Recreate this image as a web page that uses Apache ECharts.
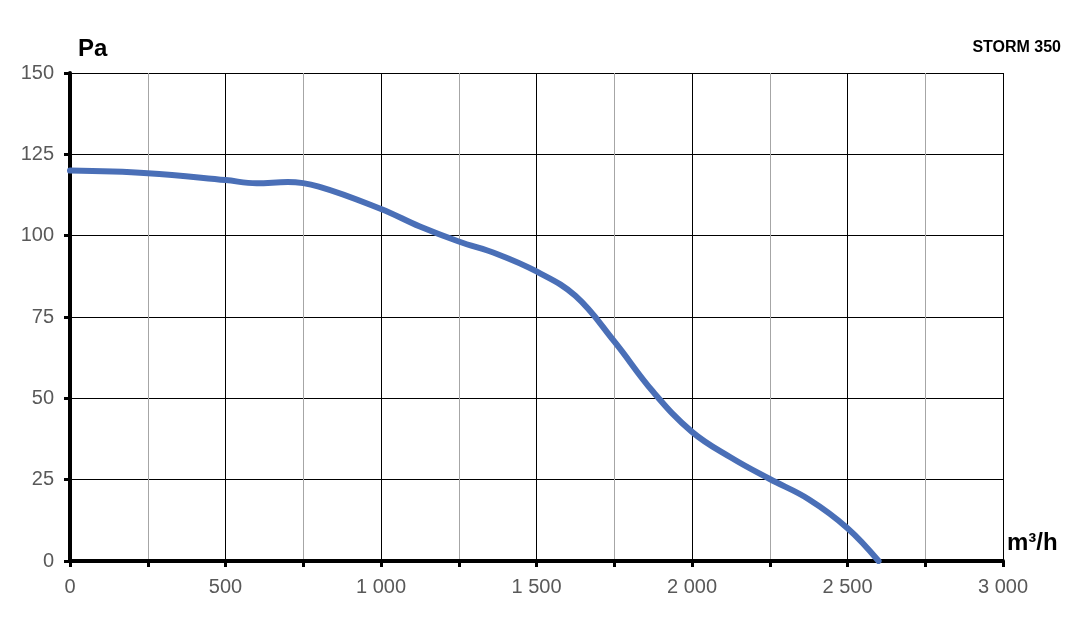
<!DOCTYPE html>
<html>
<head>
<meta charset="utf-8">
<script src="https://cdn.jsdelivr.net/npm/echarts@6/dist/echarts.min.js"></script>
<style>html,body{margin:0;padding:0;background:#fff;}#c{width:1084px;height:626px;}</style>
</head>
<body>
<div id="c"></div>
<script>
const flowValues = [0, 250, 500, 600, 700, 800, 1000, 1125, 1250, 1375, 1500, 1625, 1750, 1875, 2000, 2125, 2250, 2375, 2500, 2600];
const pressureValues = [120.0, 119.2, 117.1, 116.1, 116.5, 115.1, 108.2, 102.8, 98.2, 94.3, 89.0, 81.5, 67.5, 52.0, 39.7, 31.8, 25.2, 19.0, 10.1, 0];
const xTicks = [0, 500, 1000, 1500, 2000, 2500, 3000];
const yTicks = [0, 25, 50, 75, 100, 125, 150];
const chartTitle = 'STORM 350';
const yUnit = 'Pa';
const xUnit = 'm³/h';

const chart = echarts.init(document.getElementById('c'));
const fmt = v => String(v).replace(/\B(?=(\d{3})+(?!\d))/g, ' ');
chart.setOption({
  animation: false,
  backgroundColor: '#fff',
  grid: { left: 70, right: 81, top: 73, bottom: 65 },
  graphic: [
    { type: 'text', left: 78, top: 37, style: { text: yUnit, font: 'bold 24px "Liberation Sans", Arial', fill: '#000' } },
    { type: 'text', left: 1007, top: 531, style: { text: xUnit, font: 'bold 24px "Liberation Sans", Arial', fill: '#000' } },
    { type: 'text', right: 23, top: 40, style: { text: chartTitle, font: 'bold 16px "Liberation Sans", Arial', fill: '#000' } }
  ],
  xAxis: {
    type: 'value', min: 0, max: 3000, interval: 250,
    axisLine: { show: true, onZero: false, lineStyle: { color: '#000', width: 4 } },
    axisTick: { show: true, length: 6, lineStyle: { color: '#000', width: 3 } },
    axisLabel: {
      color: '#595959', fontSize: 20, fontFamily: '"Liberation Sans", Arial', margin: 16,
      formatter: v => xTicks.includes(v) ? fmt(v) : ''
    },
    splitLine: { show: true, lineStyle: { color: ['#000', '#a6a6a6'], width: 1 } }
  },
  yAxis: {
    type: 'value', min: 0, max: 150, interval: 25,
    axisLine: { show: true, lineStyle: { color: '#000', width: 4 } },
    axisTick: { show: true, length: 6, lineStyle: { color: '#000', width: 3 } },
    axisLabel: {
      color: '#595959', fontSize: 20, fontFamily: '"Liberation Sans", Arial', margin: 16,
      formatter: v => yTicks.includes(v) ? String(v) : ''
    },
    splitLine: { show: true, lineStyle: { color: '#000', width: 1 } }
  },
  series: [{
    type: 'line',
    data: flowValues.map((x, i) => [x, pressureValues[i]]),
    smooth: 0.4,
    showSymbol: false,
    lineStyle: { color: '#4a6fb7', width: 6, cap: 'round' }
  }]
});
</script>
</body>
</html>
